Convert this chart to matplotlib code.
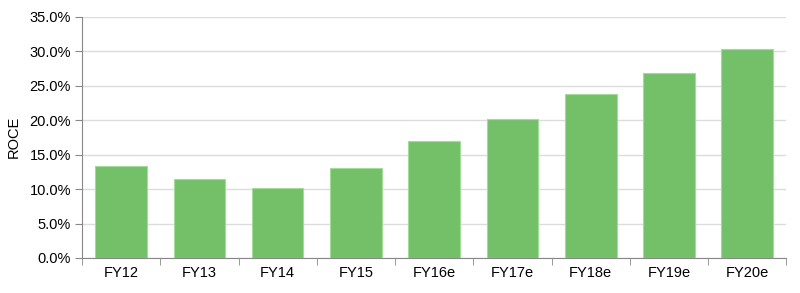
import matplotlib.pyplot as plt
from matplotlib.ticker import FuncFormatter, FixedLocator

plt.rcParams['font.family'] = ['Liberation Sans', 'DejaVu Sans']

# data
years = ['FY12', 'FY13', 'FY14', 'FY15', 'FY16e', 'FY17e', 'FY18e', 'FY19e', 'FY20e']
roce = [13.4, 11.4, 10.2, 13.0, 16.9, 20.1, 23.8, 26.9, 30.3]

fig = plt.figure(figsize=(8, 2.93), dpi=100)
ax = fig.add_axes([0.1025, 0.1195, 0.8805, 0.8235])

x = range(len(years))
ax.bar(x, roce, width=0.66, color='#74c069', edgecolor='#a3dc98', linewidth=0.8, zorder=3)

ax.set_xlim(-0.5, len(years) - 0.5)
ax.set_ylim(0, 35)
ax.set_yticks([0, 5, 10, 15, 20, 25, 30, 35])
ax.yaxis.set_major_formatter(FuncFormatter(lambda v, p: f'{v:.1f}%'))
ax.grid(axis='y', color='#dcdcdc', linewidth=1, zorder=0)

ax.set_xticks(list(x))
ax.set_xticklabels(years)
ax.xaxis.set_minor_locator(FixedLocator([i - 0.5 for i in range(len(years) + 1)]))
ax.tick_params(axis='x', which='major', length=0, pad=6, labelsize=10.5)
ax.tick_params(axis='x', which='minor', length=5, color='#888888', direction='out')
ax.tick_params(axis='y', length=5, color='#888888', labelsize=10.5, pad=3)

ax.set_ylabel('ROCE', fontsize=10.5, labelpad=6)

for s in ['top', 'right']:
    ax.spines[s].set_visible(False)
ax.spines['left'].set_color('#888888')
ax.spines['bottom'].set_color('#888888')

fig.savefig('out.png', dpi=100)
